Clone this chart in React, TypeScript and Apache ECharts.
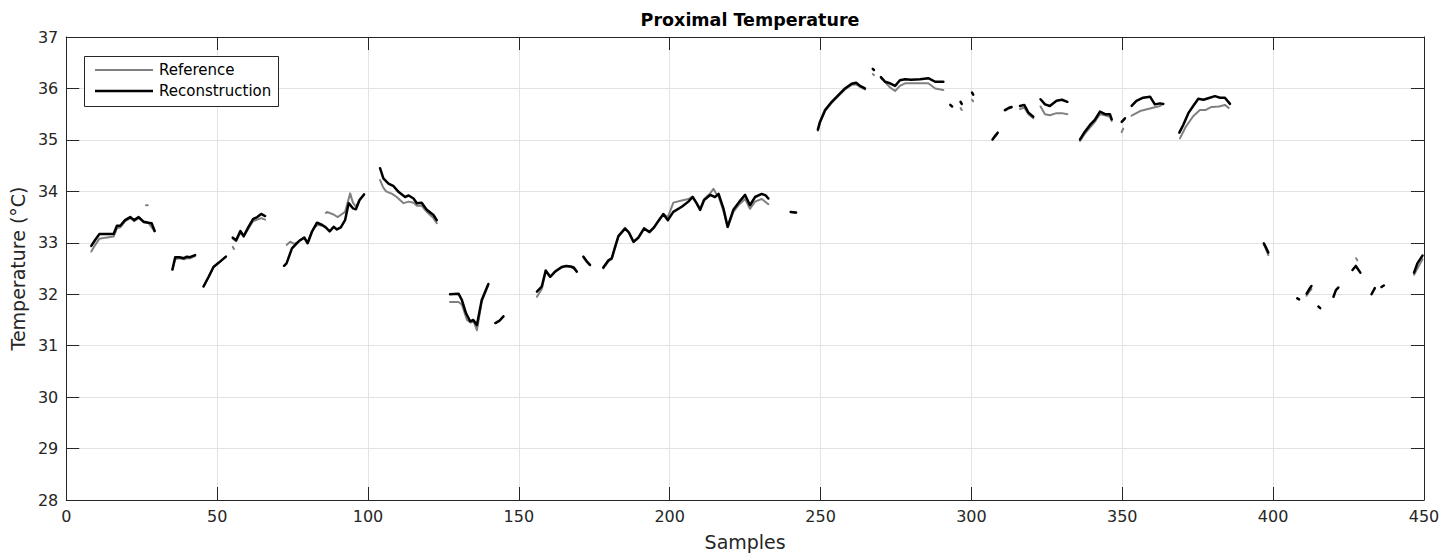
import React, { useEffect, useRef } from "react";
import * as echarts from "echarts";

const xTicks = { min: 0, max: 450, interval: 50 };
const yTicks = { min: 28, max: 37, interval: 1 };

const seriesNames = ["Reference", "Reconstruction"];

// Reconstruction (black) curve pieces: [sample, temperature]
const reconstructionSegments: number[][][] = [
  [[8.3,32.94],[9.5,33.05],[11,33.17],[13,33.17],[15.7,33.17],[16.8,33.33],[17.9,33.33],[19.5,33.44],[21.2,33.5],[22.5,33.44],[24,33.5],[25.6,33.41],[27.3,33.39],[28.3,33.38],[29.3,33.23]],
  [[35.2,32.48],[36.1,32.72],[37.5,32.72],[39,32.7],[40,32.73],[41,32.72],[42.7,32.76]],
  [[45.5,32.15],[47.2,32.34],[48.8,32.53],[50.5,32.61],[52.9,32.73]],
  [[55.2,33.1],[56.3,33.05],[57.7,33.23],[58.8,33.13],[60.4,33.31],[61.9,33.46],[63.3,33.5],[64.6,33.56],[65.9,33.52]],
  [[72.2,32.55],[73,32.6],[74.8,32.89],[76.4,32.99],[77.5,33.05],[78.9,33.1],[80,32.99],[81.4,33.21],[83.1,33.39],[84.7,33.35],[86,33.3],[87.3,33.22],[88.6,33.31],[89.7,33.26],[91,33.3],[92.4,33.44],[93.6,33.77],[95,33.67],[96,33.65],[97.2,33.83],[98.7,33.94]],
  [[104,34.45],[105.1,34.25],[106.8,34.15],[108.5,34.1],[110.1,33.99],[112.3,33.89],[113.5,33.92],[115.1,33.86],[116.2,33.77],[117.8,33.78],[119.5,33.64],[121.7,33.54],[122.8,33.44]],
  [[127.2,32.0],[130,32.01],[131.1,31.89],[132.5,31.63],[133.9,31.47],[134.9,31.5],[136.1,31.4],[137.7,31.89],[139.9,32.2]],
  [[142.2,31.44],[143.5,31.48],[144.9,31.57]],
  [[156,32.05],[157.6,32.15],[158.9,32.46],[160.4,32.34],[162,32.44],[164.2,32.53],[165.7,32.55],[167.2,32.54],[168.2,32.52],[169.2,32.44]],
  [[171.4,32.73],[172.5,32.64],[173.6,32.57]],
  [[178,32.52],[179.7,32.66],[180.8,32.7],[181.9,32.92],[183,33.13],[185.2,33.28],[186.5,33.2],[188,33.02],[189.6,33.1],[191.5,33.28],[193.3,33.21],[194.8,33.3],[196.3,33.43],[197.9,33.56],[199.4,33.44],[201.2,33.6],[204,33.7],[206.2,33.8],[207.6,33.89],[208.8,33.78],[210.1,33.64],[211.4,33.83],[213.4,33.93],[215,33.89],[216.2,33.95],[217.8,33.67],[219.2,33.31],[221.1,33.64],[223.1,33.8],[225,33.93],[226.6,33.73],[228.3,33.89],[230.5,33.95],[231.8,33.92],[232.7,33.86]],
  [[240.1,33.6],[241.9,33.59]],
  [[249.1,35.2],[249.8,35.35],[251.5,35.58],[253.7,35.74],[255.9,35.87],[258.1,36.0],[260.3,36.09],[261.8,36.11],[263.1,36.05],[264.7,36.0]],
  [[267.3,36.38],[267.7,36.36]],
  [[270,36.22],[271.4,36.13],[273,36.1],[274.7,36.05],[276.3,36.16],[278,36.18],[280,36.17],[283,36.18],[285.7,36.2],[288,36.13],[290.7,36.13]],
  [[293,35.68],[293.6,35.65]],
  [[296.4,35.74],[296.8,35.7]],
  [[300.2,35.92],[300.6,35.88]],
  [[307,35.01],[308,35.09],[308.7,35.14]],
  [[311.1,35.58],[312.3,35.62],[313.3,35.64]],
  [[316.1,35.66],[317.5,35.68],[318.9,35.53],[320.5,35.45]],
  [[322.9,35.79],[324.4,35.69],[326,35.66],[328.2,35.76],[330,35.78],[331.8,35.74]],
  [[336,35.01],[337.6,35.16],[339.3,35.29],[340.9,35.39],[342.6,35.55],[344.3,35.5],[345.9,35.5],[346.5,35.4]],
  [[349.8,35.35],[350.9,35.42]],
  [[353.1,35.66],[354.7,35.76],[356.9,35.82],[359.2,35.84],[360.8,35.69],[362.5,35.71],[363.6,35.7]],
  [[368.9,35.14],[370.2,35.29],[371.9,35.52],[373.5,35.66],[375.2,35.8],[376.9,35.78],[378.5,35.81],[380.7,35.85],[382.4,35.82],[384,35.82],[385.7,35.7]],
  [[396.9,32.99],[397.7,32.9],[398.4,32.81]],
  [[408,31.92],[408.6,31.9]],
  [[411.1,32.01],[412,32.1],[412.7,32.16]],
  [[415,31.76],[415.6,31.73]],
  [[420,31.95],[420.8,32.08],[421.6,32.13]],
  [[426.3,32.47],[427.4,32.55],[428.9,32.42]],
  [[432.6,32.0],[433.7,32.12]],
  [[435.9,32.14],[436.7,32.17]],
  [[446.7,32.42],[447.8,32.6],[449.5,32.75]],
];

// Reference (grey) curve pieces: [sample, temperature]
const referenceSegments: number[][][] = [
  [[8.3,32.83],[9.5,32.95],[11,33.08],[13,33.1],[15.7,33.12],[16.8,33.28],[17.9,33.3],[19.5,33.42],[21.2,33.48],[22.5,33.42],[24,33.48],[25.6,33.4],[27.3,33.38],[29.3,33.22]],
  [[26.4,33.73],[27,33.73]],
  [[35.2,32.48],[36.1,32.68],[37.5,32.7],[39,32.68],[40,32.7],[41,32.7],[42.7,32.74]],
  [[45.5,32.15],[47.2,32.34],[48.8,32.53],[50.5,32.61],[52.9,32.73]],
  [[55.2,32.92],[55.6,32.88]],
  [[55.2,33.08],[56.3,33.03],[57.7,33.2],[58.8,33.12],[60.4,33.28],[61.9,33.42],[63.3,33.45],[64.6,33.48],[65.9,33.45]],
  [[73.1,32.96],[74.2,33.02],[75.5,32.98],[76.4,33.0],[77.5,33.05],[78.9,33.1],[80,33.0],[81.4,33.22],[82.3,33.3],[83.5,33.35],[84.7,33.33]],
  [[86,33.58],[86.4,33.6],[88.6,33.55],[90,33.5],[92.4,33.6],[94.1,33.96],[95,33.78],[96,33.7],[97.2,33.83],[98.7,33.94]],
  [[104,34.22],[105,34.08],[106,34.0],[108,33.95],[109.5,33.89],[111.8,33.77],[113.5,33.8],[115.1,33.78],[116.2,33.72],[117.8,33.72],[119.5,33.6],[121.7,33.48],[122.8,33.38]],
  [[127.2,31.85],[130,31.85],[131.1,31.8],[132.8,31.5],[134,31.45],[135,31.47],[136.1,31.3],[137.7,31.85],[139.9,32.18]],
  [[142.2,31.44],[143.5,31.48],[144.9,31.57]],
  [[156,31.95],[157.6,32.1],[158.9,32.44],[160.4,32.33],[162,32.43],[164.2,32.52],[165.7,32.55],[167.2,32.53],[168.2,32.5],[169.2,32.43]],
  [[171.4,32.72],[172.5,32.63],[173.6,32.56]],
  [[178,32.5],[179.7,32.64],[180.8,32.68],[181.9,32.9],[183,33.12],[185.2,33.27],[186.5,33.19],[188,33.01],[189.6,33.09],[191.5,33.27],[193.3,33.2],[194.8,33.29],[196.3,33.42],[197.9,33.55],[199.4,33.5],[201.2,33.78],[204,33.82],[206.2,33.85],[207.6,33.9],[208.8,33.78],[210.1,33.66],[211.4,33.85],[213.4,33.96],[214.5,34.05],[215.5,33.95],[216.2,33.9],[217.8,33.62],[219.2,33.3],[221.1,33.6],[223.1,33.75],[225,33.85],[226.6,33.66],[228.3,33.8],[230.5,33.85],[232.7,33.75]],
  [[240.1,33.6],[241.9,33.58]],
  [[249.1,35.18],[249.8,35.33],[251.5,35.56],[253.7,35.72],[255.9,35.85],[258.1,35.98],[260.3,36.07],[261.8,36.08],[263.1,36.03],[264.7,35.98]],
  [[267.3,36.28],[267.7,36.26]],
  [[270,36.2],[271.4,36.12],[273,36.02],[274.7,35.95],[276.3,36.05],[278,36.1],[280,36.1],[283,36.1],[285.7,36.1],[288,36.0],[290.7,35.97]],
  [[296.4,35.62],[296.8,35.58]],
  [[300.2,35.78],[300.6,35.75]],
  [[307,35.0],[308,35.07],[308.7,35.12]],
  [[311.1,35.57],[312.3,35.61],[313.3,35.63]],
  [[316.1,35.6],[317.5,35.63],[318.9,35.5],[320.5,35.42]],
  [[322.9,35.65],[324.4,35.5],[326,35.48],[328.2,35.52],[330,35.52],[331.8,35.5]],
  [[336,34.98],[337.6,35.12],[339.3,35.24],[340.9,35.35],[342.6,35.5],[344.3,35.48],[345.9,35.45],[346.5,35.37]],
  [[349.8,35.15],[350.3,35.22]],
  [[353.1,35.47],[355.9,35.56],[359.2,35.61],[362.5,35.66],[363.6,35.7]],
  [[369.1,35.03],[371,35.25],[373.5,35.46],[375.7,35.58],[377.5,35.58],[379.6,35.64],[382,35.65],[384,35.68],[385.3,35.62]],
  [[396.9,32.97],[397.7,32.86],[398.4,32.76]],
  [[411.1,31.97],[412,32.05],[412.7,32.1]],
  [[427.5,32.7],[427.9,32.66]],
  [[446.7,32.38],[447.8,32.5],[449.5,32.68]],
];

const FONT = "DejaVu Sans";
const AXIS_COLOR = "#262626";
const GRID_COLOR = "#e3e3e3";
const REF_COLOR = "#808080";
const REC_COLOR = "#000000";

export default function App() {
  const ref = useRef<HTMLDivElement>(null);

  useEffect(() => {
    if (!ref.current) return;
    const chart = echarts.init(ref.current, undefined, { renderer: "svg" });

    const lineSeries = (segs: number[][][], name: string, color: string, width: number, z: number) =>
      segs.map((seg) => ({
        type: "line",
        name,
        data: seg,
        symbol: "none",
        showSymbol: false,
        smooth: false,
        z,
        lineStyle: { color, width, cap: "round", join: "round" },
        itemStyle: { color },
        emphasis: { disabled: true },
      }));

    const commonX = { type: "value", min: xTicks.min, max: xTicks.max, interval: xTicks.interval };
    const commonY = { type: "value", min: yTicks.min, max: yTicks.max, interval: yTicks.interval };

    const legendBox = { x: 84, y: 56, w: 194, h: 50 };

    chart.setOption({
      animation: false,
      backgroundColor: "#ffffff",
      title: {
        text: "Proximal Temperature",
        left: 745,
        textAlign: "center",
        top: 6,
        textStyle: { fontFamily: FONT, fontSize: 17.5, fontWeight: "bold", color: "#000" },
      },
      graphic: [
        {
          type: "rect",
          z: 100,
          shape: { x: legendBox.x + 0.5, y: legendBox.y + 0.5, width: legendBox.w, height: legendBox.h },
          style: { fill: "#ffffff", stroke: AXIS_COLOR, lineWidth: 1 },
        },
        {
          type: "line",
          z: 101,
          shape: { x1: 95, y1: 70, x2: 153, y2: 70 },
          style: { stroke: REF_COLOR, lineWidth: 2 },
        },
        {
          type: "line",
          z: 101,
          shape: { x1: 95, y1: 91, x2: 153, y2: 91 },
          style: { stroke: REC_COLOR, lineWidth: 2.5 },
        },
        {
          type: "text",
          z: 101,
          x: 159,
          y: 70,
          style: { text: seriesNames[0], fontFamily: FONT, fontSize: 15, fill: "#000", verticalAlign: "middle", align: "left" },
        },
        {
          type: "text",
          z: 101,
          x: 159,
          y: 91,
          style: { text: seriesNames[1], fontFamily: FONT, fontSize: 15, fill: "#000", verticalAlign: "middle", align: "left" },
        },
      ],
      grid: { left: 66, right: 30, top: 37, bottom: 56, containLabel: false },
      xAxis: [
        {
          ...commonX,
          position: "bottom",
          name: "Samples",
          nameLocation: "middle",
          nameGap: 32,
          nameTextStyle: { fontFamily: FONT, fontSize: 19, color: AXIS_COLOR },
          axisLine: { show: true, onZero: false, lineStyle: { color: AXIS_COLOR, width: 1 } },
          axisTick: { show: true, inside: true, length: 13, lineStyle: { color: AXIS_COLOR } },
          axisLabel: { fontFamily: FONT, fontSize: 16, color: AXIS_COLOR, margin: 8 },
          splitLine: { show: true, lineStyle: { color: GRID_COLOR, width: 1 } },
        },
        {
          ...commonX,
          position: "top",
          axisLine: { show: true, onZero: false, lineStyle: { color: AXIS_COLOR, width: 1 } },
          axisTick: { show: true, inside: true, length: 13, lineStyle: { color: AXIS_COLOR } },
          axisLabel: { show: false },
          splitLine: { show: false },
        },
      ],
      yAxis: [
        {
          ...commonY,
          position: "left",
          name: "Temperature (°C)",
          nameLocation: "middle",
          nameRotate: 90,
          nameGap: 37,
          nameTextStyle: { fontFamily: FONT, fontSize: 19, color: AXIS_COLOR },
          axisLine: { show: true, onZero: false, lineStyle: { color: AXIS_COLOR, width: 1 } },
          axisTick: { show: true, inside: true, length: 13, lineStyle: { color: AXIS_COLOR } },
          axisLabel: { fontFamily: FONT, fontSize: 16, color: AXIS_COLOR, margin: 8 },
          splitLine: { show: true, lineStyle: { color: GRID_COLOR, width: 1 } },
        },
        {
          ...commonY,
          position: "right",
          axisLine: { show: true, onZero: false, lineStyle: { color: AXIS_COLOR, width: 1 } },
          axisTick: { show: true, inside: true, length: 13, lineStyle: { color: AXIS_COLOR } },
          axisLabel: { show: false },
          splitLine: { show: false },
        },
      ],
      series: [
        ...lineSeries(referenceSegments, seriesNames[0], REF_COLOR, 2, 2),
        ...lineSeries(reconstructionSegments, seriesNames[1], REC_COLOR, 2.5, 3),
      ],
    });

    return () => chart.dispose();
  }, []);

  return (
    <div
      ref={ref}
      style={{ position: "fixed", left: 0, top: 0, width: 1454, height: 556, background: "#fff" }}
    />
  );
}
